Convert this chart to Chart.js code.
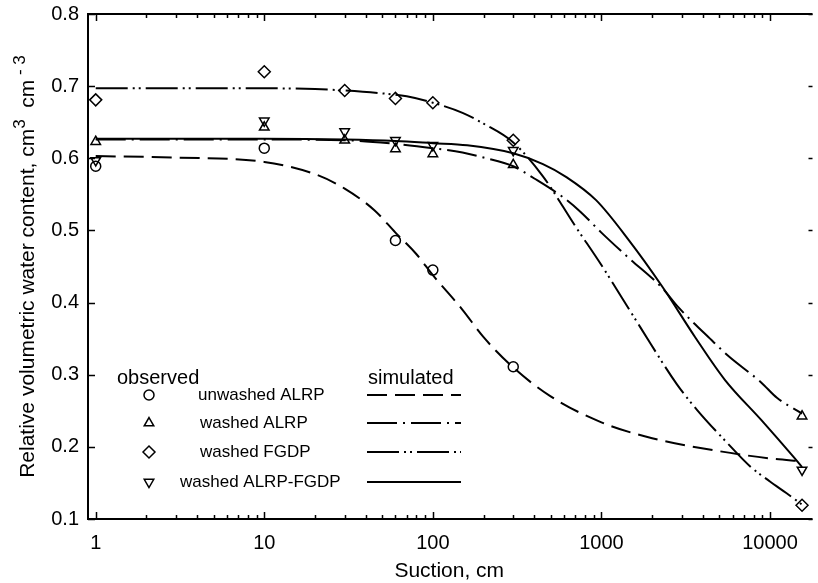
<!DOCTYPE html>
<html>
<head>
<meta charset="utf-8">
<script src="https://cdn.jsdelivr.net/npm/chart.js@4.4.0/dist/chart.umd.min.js"></script>
<style>
html,body{margin:0;padding:0;background:#fff;}
#wrap{width:818px;height:583px;}
</style>
</head>
<body>
<div id="wrap"><canvas id="myChart" width="818" height="583"></canvas></div>
<script>
//관측값 (observed)
var obsSuction = [1, 10, 30, 60, 100, 300, 15500];
var obsUnwashedALRP = [0.589, 0.614, null, 0.486, 0.445, 0.311, null];
var obsWashedALRP = [0.623, 0.643, 0.625, 0.613, 0.606, 0.591, 0.2425];
var obsWashedFGDP = [0.681, 0.720, 0.694, 0.683, 0.677, 0.625, 0.119];
var obsWashedMix = [0.597, 0.652, 0.637, 0.625, 0.618, 0.611, 0.168];

//시뮬레이션 곡선 (simulated)
var simUnwashedSuction = [1, 3, 10, 20, 30, 45, 60, 80, 100, 150, 200, 300, 500, 1000, 2000, 5000, 10000, 15500];
var simUnwashedALRP = [0.603, 0.601, 0.595, 0.578, 0.558, 0.528, 0.497, 0.467, 0.438, 0.39, 0.352, 0.31, 0.27, 0.234, 0.212, 0.194, 0.184, 0.180];

var simALRPSuction = [1, 10, 30, 60, 100, 150, 200, 300, 400, 600, 750, 1000, 1450, 2300, 2850, 4500, 5600, 8900, 11000, 15500];
var simWashedALRP = [0.626, 0.626, 0.625, 0.62, 0.614, 0.608, 0.601, 0.589, 0.572, 0.545, 0.526, 0.497, 0.462, 0.42, 0.394, 0.348, 0.327, 0.289, 0.268, 0.246];

var simFGDPSuction = [1, 10, 20, 30, 50, 70, 100, 150, 200, 300, 450, 700, 1000, 1700, 2800, 3700, 5600, 7700, 10000, 12500, 15500];
var simWashedFGDP = [0.697, 0.697, 0.696, 0.694, 0.69, 0.686, 0.677, 0.663, 0.648, 0.622, 0.575, 0.506, 0.452, 0.366, 0.287, 0.251, 0.205, 0.172, 0.152, 0.136, 0.12];

var simMixSuction = [1, 10, 30, 60, 100, 160, 300, 450, 620, 930, 1450, 2300, 3600, 5400, 8900, 13800, 15500];
var simWashedMix = [0.627, 0.627, 0.626, 0.624, 0.621, 0.618, 0.607, 0.592, 0.574, 0.542, 0.487, 0.422, 0.352, 0.293, 0.237, 0.186, 0.172];

var yTicks = [0.1, 0.2, 0.3, 0.4, 0.5, 0.6, 0.7, 0.8];
var xMajor = [1, 10, 100, 1000, 10000];

var legendNames = ['unwashed ALRP', 'washed ALRP', 'washed FGDP', 'washed ALRP-FGDP'];

var FONT = "'Liberation Sans', Arial, sans-serif";
var dashUnwashed = [20, 8];
var dashALRP = [30, 6, 2, 6];
var dashFGDP = [32, 5, 2, 4, 2, 5];
var dashMix = [];

function pts(xs, ys){
	var out = [];
	for(var i=0;i<xs.length;i++){
		if(ys[i] !== null) out.push({x: xs[i], y: ys[i]});
	}
	return out;
}

function markerSet(label, ys, style, r, rot){
	return {
		type: 'scatter', label: label, data: pts(obsSuction, ys),
		pointStyle: style, pointRadius: r, pointRotation: rot || 0,
		pointBorderWidth: 1.5, pointBackgroundColor: 'rgba(255,255,255,0)',
		pointBorderColor: '#000', showLine: false
	};
}

function lineSet(label, xs, ys, dash){
	return {
		type: 'line', label: label, data: pts(xs, ys),
		borderColor: '#000', borderWidth: 2, borderDash: dash,
		pointRadius: 0, fill: false, cubicInterpolationMode: 'monotone'
	};
}

var markers = [
	{style: 'circle', r: 5, rot: 0},
	{style: 'triangle', r: 5.5, rot: 0},
	{style: 'rectRot', r: 6, rot: 0},
	{style: 'triangle', r: 5.5, rot: 180}
];
var dashes = [dashUnwashed, dashALRP, dashFGDP, dashMix];

//테두리, 눈금, 제목, 범례
var decorPlugin = {
	id: 'decor',
	afterDraw: function(chart){
		var c = chart.ctx, a = chart.chartArea;
		var xs = chart.scales.x, ys = chart.scales.y;
		c.save();
		c.strokeStyle = '#000';
		c.lineWidth = 2;
		c.beginPath();
		c.moveTo(a.left, a.top); c.lineTo(a.left, a.bottom);
		c.moveTo(a.left - 1, a.bottom); c.lineTo(a.right + 2, a.bottom);
		c.moveTo(a.left - 1, a.top); c.lineTo(a.right + 2, a.top);
		c.stroke();

		c.lineWidth = 1.5;
		c.beginPath();
		for(var d=0; d<5; d++){
			for(var k=1; k<10; k++){
				var v = k * Math.pow(10, d);
				if(v > xs.max) continue;
				var px = Math.round(xs.getPixelForValue(v)) + 0.5;
				var len = (k == 1) ? 7 : 4;
				c.moveTo(px, a.bottom); c.lineTo(px, a.bottom - len);
				c.moveTo(px, a.top); c.lineTo(px, a.top + len);
			}
		}
		yTicks.forEach(function(t){
			var py = Math.round(ys.getPixelForValue(t)) + 0.5;
			c.moveTo(a.left, py); c.lineTo(a.left + 7, py);
			c.moveTo(a.right + 2, py); c.lineTo(a.right - 2, py);
		});
		c.stroke();

		//x축 제목
		c.fillStyle = '#000';
		c.font = '21px ' + FONT;
		c.textAlign = 'center';
		c.textBaseline = 'alphabetic';
		c.fillText('Suction, cm', (a.left + a.right) / 2, 577);

		//y축 제목 (위첨자 포함)
		var parts = [
			{t: 'Relative volumetric water content, cm', sup: false},
			{t: '3', sup: true},
			{t: '  cm', sup: false},
			{t: ' - 3', sup: true}
		];
		var total = 0;
		parts.forEach(function(p){
			c.font = (p.sup ? '17px ' : '21px ') + FONT;
			p.w = c.measureText(p.t).width;
			total += p.w;
		});
		c.translate(34, (a.top + a.bottom) / 2);
		c.rotate(-Math.PI / 2);
		c.textAlign = 'left';
		var cx = -total / 2;
		parts.forEach(function(p){
			c.font = (p.sup ? '17px ' : '21px ') + FONT;
			c.fillText(p.t, cx, p.sup ? -9 : 0);
			cx += p.w;
		});
		c.setTransform(1, 0, 0, 1, 0, 0);

		//범례
		c.font = '20px ' + FONT;
		c.textAlign = 'left';
		c.fillText('observed', 117, 384);
		c.fillText('simulated', 368, 384);
		var rowY = [395, 423, 452, 482];
		var labelX = [198, 200, 200, 180];
		c.font = '17px ' + FONT;
		c.textBaseline = 'middle';
		for(var i=0; i<4; i++){
			c.fillStyle = '#000';
			c.fillText(legendNames[i], labelX[i], rowY[i]);
			c.strokeStyle = '#000';
			c.fillStyle = 'rgba(255,255,255,0)';
			c.lineWidth = 1.5;
			Chart.helpers.drawPoint(c, {pointStyle: markers[i].style, rotation: markers[i].rot,
				radius: markers[i].r, borderWidth: 1.5}, 149, rowY[i]);
			c.lineWidth = 2;
			c.setLineDash(dashes[i]);
			c.beginPath();
			c.moveTo(367, rowY[i]); c.lineTo(461, rowY[i]);
			c.stroke();
			c.setLineDash([]);
		}
		c.restore();
	}
};

var ctx = document.getElementById('myChart').getContext('2d');
var chart = new Chart(ctx, {
	type: 'line',
	data: {
		datasets: [
			markerSet('unwashed ALRP', obsUnwashedALRP, 'circle', 5),
			markerSet('washed ALRP', obsWashedALRP, 'triangle', 5.5),
			markerSet('washed FGDP', obsWashedFGDP, 'rectRot', 6),
			markerSet('washed ALRP-FGDP', obsWashedMix, 'triangle', 5.5, 180),
			lineSet('unwashed ALRP sim', simUnwashedSuction, simUnwashedALRP, dashUnwashed),
			lineSet('washed ALRP sim', simALRPSuction, simWashedALRP, dashALRP),
			lineSet('washed FGDP sim', simFGDPSuction, simWashedFGDP, dashFGDP),
			lineSet('washed ALRP-FGDP sim', simMixSuction, simWashedMix, dashMix)
		]
	},
	options: {
		responsive: false,
		animation: false,
		layout: {padding: {top: 14, right: 1, left: 0, bottom: 0}},
		plugins: {legend: {display: false}, tooltip: {enabled: false}},
		scales: {
			x: {
				type: 'logarithmic', min: 0.9, max: 17400,
				grid: {display: false, drawTicks: false},
				border: {display: false},
				afterFit: function(s){ s.height = 64; s.paddingLeft = 0; s.paddingRight = 0; },
				afterBuildTicks: function(s){
					s.ticks = xMajor.map(function(v){ return {value: v}; });
				},
				ticks: {
					autoSkip: false, maxRotation: 0, padding: 12, color: '#000',
					font: {family: FONT, size: 20},
					callback: function(v){ return String(v); }
				}
			},
			y: {
				min: 0.1, max: 0.8,
				grid: {display: false, drawTicks: false},
				border: {display: false},
				afterFit: function(s){ s.width = 88; s.paddingTop = 0; s.paddingBottom = 0; },
				afterBuildTicks: function(s){
					s.ticks = yTicks.map(function(v){ return {value: v}; });
				},
				ticks: {
					padding: 9, color: '#000',
					font: {family: FONT, size: 20},
					callback: function(v){ return v.toFixed(1); }
				}
			}
		}
	},
	plugins: [decorPlugin]
});
</script>
</body>
</html>
